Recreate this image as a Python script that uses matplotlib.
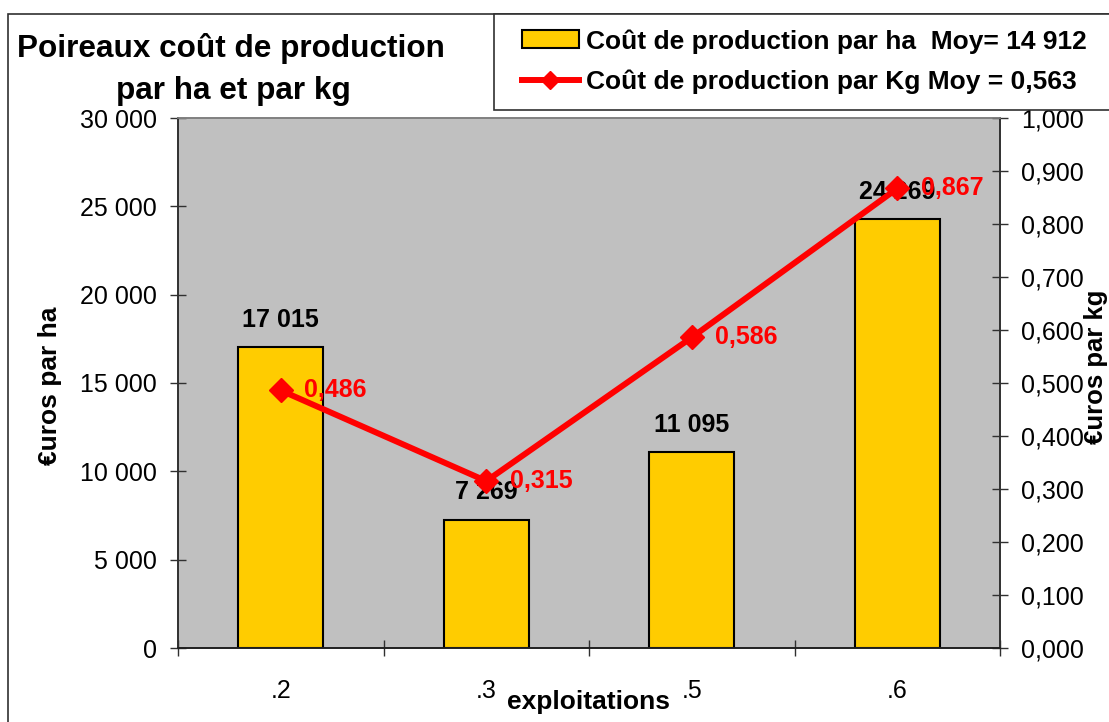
import matplotlib
matplotlib.use("Agg")
import matplotlib.pyplot as plt
from matplotlib.patches import Rectangle, Patch
from matplotlib.lines import Line2D
from matplotlib.ticker import FuncFormatter, FixedLocator

# ---- data ----
categories = [".2", ".3", ".5", ".6"]
cout_ha = [17015, 7269, 11095, 24269]
cout_kg = [0.486, 0.315, 0.586, 0.867]
label_ha = "Coût de production par ha  Moy= 14 912"
label_kg = "Coût de production par Kg Moy = 0,563"
title_lines = ["Poireaux coût de production", "par ha et par kg"]

W, H = 1109, 722
FONT = "Liberation Sans"
plt.rcParams['font.family'] = [FONT, 'DejaVu Sans']

fig = plt.figure(figsize=(W / 100, H / 100), dpi=100)
fig.patch.set_facecolor("white")

def fx(x):
    return x / W

def fy(y):
    return 1 - y / H

ax = fig.add_axes([fx(178), fy(648), (1000 - 178) / W, (648 - 118) / H])
ax.set_facecolor("#C0C0C0")
ax2 = ax.twinx()

x = list(range(len(categories)))
ax.bar(x, cout_ha, width=0.414, color="#FFCC00", edgecolor="black", linewidth=1.5, zorder=2)
ax.set_xlim(-0.5, len(categories) - 0.5)
ax.set_ylim(0, 30000)
ax.set_yticks(range(0, 30001, 5000))
ax.yaxis.set_major_formatter(FuncFormatter(lambda v, p: f"{int(v):,}".replace(",", " ")))
ax.set_xticks(x)
ax.set_xticklabels(categories)
ax.xaxis.set_minor_locator(FixedLocator([i - 0.5 for i in range(len(categories) + 1)]))
ax.tick_params(axis="x", which="major", length=0, pad=22, labelsize=18)
ax.tick_params(axis="x", which="minor", length=11, direction="inout", width=1, color="#303030")
ax.tick_params(axis="y", length=12, direction="inout", width=1, pad=9, labelsize=18, color="#303030")

for xi, v in zip(x, cout_ha):
    ax.annotate(f"{v:,}".replace(",", " "), (xi, v), xytext=(0, 14.5), textcoords="offset points",
                ha="center", va="baseline", fontsize=18, fontweight="bold", color="black", zorder=3)

ax2.plot(x, cout_kg, color="#FF0000", linewidth=4.3, marker="D", markersize=12,
         markerfacecolor="#FF0000", markeredgecolor="#FF0000", zorder=4)
ax2.set_ylim(0, 1.0)
ax2.set_yticks([i / 10 for i in range(11)])
ax2.yaxis.set_major_formatter(FuncFormatter(lambda v, p: f"{v:.3f}".replace(".", ",")))
ax2.tick_params(axis="y", length=12, direction="inout", width=1, pad=9, labelsize=18, color="#303030")

for xi, v in zip(x, cout_kg):
    ax2.annotate(f"{v:.3f}".replace(".", ","), (xi, v), xytext=(17, 0), textcoords="offset points",
                 ha="left", va="center", fontsize=18, fontweight="bold", color="#FF0000", zorder=5)

for a in (ax, ax2):
    a.spines["top"].set_color("#808080")
    a.spines["left"].set_color("#303030")
    a.spines["right"].set_color("#303030")
    a.spines["bottom"].set_color("#202020")
    for s in a.spines.values():
        s.set_linewidth(1.2)

# axis titles
fig.text(fx(50), fy(386), "€uros par ha", rotation=90, ha="center", va="center",
         fontsize=19, fontweight="bold")
fig.text(fx(1096), fy(367), "€uros par kg", rotation=90, ha="center", va="center",
         fontsize=18.5, fontweight="bold")
fig.text(fx(588), fy(702), "exploitations", ha="center", va="center",
         fontsize=19, fontweight="bold")

# title
fig.text(fx(231), fy(48), title_lines[0], ha="center", va="center", fontsize=22.7, fontweight="bold")
fig.text(fx(233), fy(91), title_lines[1], ha="center", va="center", fontsize=22.7, fontweight="bold")

# outer chart frame
fig.add_artist(Rectangle((fx(8), fy(740)), fx(1130 - 8), (740 - 14) / H, transform=fig.transFigure,
                         fill=False, edgecolor="#303030", linewidth=1.2, zorder=1))
# legend box
fig.add_artist(Rectangle((fx(494), fy(110)), fx(1130 - 494), (110 - 14) / H, transform=fig.transFigure,
                         facecolor="white", edgecolor="#303030", linewidth=1.2, zorder=3))

handles = [Patch(facecolor="#FFCC00", edgecolor="black", linewidth=1.5),
           Line2D([0], [0], color="#FF0000", linewidth=4.3, marker="D", markersize=9,
                  markerfacecolor="#FF0000", markeredgecolor="#FF0000")]
leg = fig.legend(handles, [label_ha, label_kg], loc="upper left",
                 bbox_to_anchor=(fx(522), fy(29)), borderaxespad=0, borderpad=0,
                 frameon=False, prop={"family": FONT, "weight": "bold", "size": 19},
                 handlelength=2.15, handleheight=0.65, handletextpad=0.27, labelspacing=0.62)
leg.set_zorder(6)

fig.savefig("out.png", dpi=100)
